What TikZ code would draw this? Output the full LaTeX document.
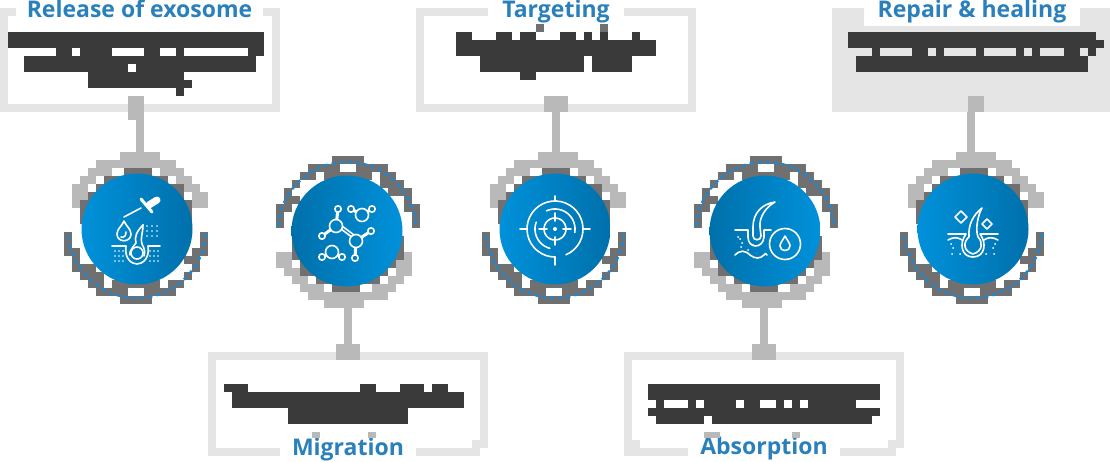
\documentclass[tikz,border=0pt]{standalone}
\usepackage{fontspec}
\newfontfamily\titlefont{Open Sans}
\definecolor{panelgray}{HTML}{E5E5E5}
\definecolor{stemgray}{HTML}{B9B9B9}
\definecolor{ringdark}{HTML}{707070}
\definecolor{inkdark}{HTML}{3A3A3A}
\definecolor{titleblue}{HTML}{2A80BA}
\definecolor{dashblue}{HTML}{1F86CF}
\definecolor{discA}{HTML}{0091DA}
\definecolor{discB}{HTML}{0070AB}
\definecolor{discM}{HTML}{0081C2}
\tikzset{
	panel/.style={rectangle, draw=panelgray, line width=8pt, minimum width=272pt, minimum height=96pt, inner sep=0pt},
	title/.style={fill=white, text=titleblue, inner sep=0pt, minimum height=26pt, text height=15pt, text depth=5pt, font=\titlefont\bfseries\fontsize{23}{27}\selectfont},
	tabpiece/.style={rectangle, fill=stemgray, inner sep=0pt},
	link/.style={draw=stemgray, line width=8pt},
	ringspot/.style={circle, minimum size=154pt, inner sep=0pt},
	discR/.style={circle, minimum size=111pt, inner sep=0pt, left color=discA, right color=discB},
	discL/.style={circle, minimum size=111pt, inner sep=0pt, left color=discB, right color=discA},
	icon/.style={draw=white, line width=1.6pt, line cap=round, line join=round},
	inkbar/.style={fill=inkdark},
}
% arc round the origin of the scope, angles run clockwise on the page
\newcommand{\iconarc}[3]{plot[domain=#2:#3, samples=36] ({#1*cos(\x)}, {#1*sin(\x)})}
% stepped gray and dark pieces of one ring
\newcommand{\ringbits}[3]{
	\begin{scope}[shift={(#1,#2)}, rotate=#3]
		\foreach \xa/\xb/\ya/\yb in {-13/15/-61/-53, -33/31/-53/-45, -41/47/-45/-37, -49/47/-37/-29, -57/55/-29/-5,
			-73/-65/3/19, 63/71/3/19, -73/-57/19/27, 55/71/19/27, -65/-57/27/35, 47/63/27/35, -65/-41/35/43, 55/63/35/43,
			-57/-33/43/51, 47/55/43/51, -49/-33/51/59, -25/23/51/59, 31/47/51/59, -41/-9/59/67, 7/39/59/67, -17/15/67/75}
			\fill[ringdark] (\xa,\ya) rectangle (\xb,\yb);
		\foreach \xa/\xb/\ya/\yb in {-17/23/-77/-69, -41/39/-69/-61, -49/-25/-61/-53, 23/47/-61/-53, -57/-41/-53/-45, 39/55/-53/-45,
			-65/-49/-45/-37, 47/63/-45/-37, -65/-49/-37/-29, 55/71/-37/-21, -65/-57/-29/-21}
			\fill[stemgray] (\xa,\ya) rectangle (\xb,\yb);
		\draw[dashblue, line width=2.6pt, dash pattern=on 4pt off 4pt] \iconarc{69}{4}{176};
	\end{scope}
}
\begin{document}
\begin{tikzpicture}[x=1pt,y=-1pt]
	\useasboundingbox (0,0) rectangle (1110,462);
	\fill[white] (0,0) rectangle (1110,462);

	% panels
	\node (box1) at (140,60) [panel] {};
	\node (box2) at (348,404) [panel] {};
	\node (box3) at (556,60) [panel] {};
	\node (box4) at (764,404) [panel] {};
	\node (box5) at (971,60) [panel, fill=panelgray, minimum width=270pt] {};
	% broken corners of the lower panels
	\foreach \xa/\ya in {480/448, 896/448}
		\fill[white] (\xa,\ya) rectangle ++(8,8);
	\foreach \xa/\ya in {472/440, 632/440, 888/440}
		\fill[panelgray] (\xa,\ya) rectangle ++(8,8);

	% rings and discs
	\ringbits{137}{229}{0}
	\ringbits{347}{231}{180}
	\ringbits{555}{229}{0}
	\ringbits{765}{231}{180}
	\ringbits{973}{229}{0}
	\node (ring1) at (137,229) [ringspot] {};
	\node (ring2) at (347,231) [ringspot] {};
	\node (ring3) at (555,229) [ringspot] {};
	\node (ring4) at (765,231) [ringspot] {};
	\node (ring5) at (973,229) [ringspot] {};
	\node (disc1) at (137,229) [discR] {};
	\node (disc2) at (347,231) [discL] {};
	\node (disc3) at (555,229) [discR] {};
	\node (disc4) at (765,231) [discL] {};
	\node (disc5) at (973,229) [discR] {};

	% connectors
	\draw[link] (box1.south) -- (box1.south |- ring1.north);
	\draw[link] (box2.north) -- (box2.north |- ring2.south);
	\draw[link] (box3.south) -- (box3.south |- ring3.north);
	\draw[link] (box4.north) -- (box4.north |- ring4.south);
	\draw[link] (box5.south) -- (box5.south |- ring5.north);
	\node (tab1) at (136,108) [tabpiece, minimum width=16pt, minimum height=24pt] {};
	\node (tab2) at (348,352) [tabpiece, minimum width=24pt, minimum height=16pt] {};
	\node (tab3) at (556,104) [tabpiece, minimum width=24pt, minimum height=16pt] {};
	\node (tab4) at (764,352) [tabpiece, minimum width=24pt, minimum height=16pt] {};
	\node (tab5) at (976,104) [tabpiece, minimum width=16pt, minimum height=16pt] {};

	% titles
	\node (title1) at (139.5,13) [title, minimum width=247pt] {Release of exosome};
	\node (title2) at (348,450) [title, minimum width=136pt] {Migration};
	\node (title3) at (556,13) [title, minimum width=136pt] {Targeting};
	\node (title4) at (764,449) [title, minimum width=152pt] {Absorption};
	\node (title5) at (972,13) [title, minimum width=216pt] {Repair \& healing};

	% unreadable body lines, as solid bars
	\foreach \xa/\xb/\ya/\yb in {8/264/32/48, 56/72/48/56, 80/112/48/56, 144/160/48/56, 176/184/48/56, 248/264/48/56,
		24/128/56/72, 128/136/56/64, 136/256/56/72, 88/184/72/80, 88/192/80/88, 176/184/88/96,
		224/248/384/392, 360/376/384/392, 400/424/384/392, 432/448/384/392, 232/464/392/408, 288/408/408/424,
		456/472/32/40, 496/512/32/40, 520/536/32/40, 560/576/32/40, 584/592/32/40, 600/608/32/40, 632/640/32/40,
		456/656/40/56, 480/584/56/72, 592/632/56/72, 520/536/72/80,
		648/880/384/400, 656/664/400/408, 688/696/400/408, 704/736/400/408, 744/760/400/408, 776/784/400/408,
		792/800/400/408, 808/856/400/408, 648/880/408/416, 656/704/416/424, 712/872/416/424,
		848/1096/32/40, 848/1104/40/48, 872/880/48/56, 912/928/48/56, 936/944/48/56, 976/984/48/56, 1016/1024/48/56,
		1032/1040/48/56, 1064/1080/48/56, 1088/1096/48/56, 856/1088/56/72}
		\fill[inkbar] (\xa,\ya) rectangle (\xb,\yb);
	% stray bits under and over the titles
	\foreach \xa/\xb/\ya/\yb in {536/544/24/32, 600/608/24/32}
		\fill[ringdark] (\xa,\ya) rectangle (\xb,\yb);
	\foreach \xa/\xb/\ya/\yb in {312/320/432/438, 368/376/432/438, 704/720/432/438, 792/800/432/438}
		\fill[stemgray] (\xa,\ya) rectangle (\xb,\yb);

	% icon 1: dropper over a hair
	\begin{scope}[shift={(disc1.center)}]
		\draw[icon] (-13,-12) -- (4,-21);
		\draw[icon, line width=3pt] (4,-30) -- (15,-17);
		\draw[icon, line width=7pt] (12,-24) -- (20,-29);
		\draw[icon] (-13,-8) .. controls (-15,-3) and (-20,0) .. (-20,5) .. controls (-20,14) and (-6,14) .. (-6,5) .. controls (-6,0) and (-11,-3) .. (-13,-8);
		\draw[icon] (-11,3) .. controls (-11,7) and (-13,9) .. (-16,8);
		\draw[icon] (6,-4) .. controls (0,2) and (-3,8) .. (-1,14) .. controls (-6,20) and (-8,24) .. (-7,26);
		\draw[icon] (6,-4) .. controls (6,4) and (3,10) .. (5,15) .. controls (8,20) and (8,24) .. (7,27);
		\draw[icon] (-25,17) -- (-11,17) .. controls (-13,30) and (-5,35) .. (0,35) .. controls (5,35) and (13,30) .. (11,17) -- (23,17);
		\draw[icon] (0,24) circle (6);
		\foreach \px in {-22,-18,-14,13,17,21}
			\foreach \py in {22,27,32}
				\fill[white] (\px,\py) circle (0.8);
		\foreach \px in {10,15,20}
			\foreach \py in {-3,2,7}
				\fill[white] (\px,\py) circle (0.8);
	\end{scope}

	% icon 2: molecules
	\begin{scope}[shift={(disc2.center)}]
		\draw[icon] (-10,-5) -- (10,10);
		\draw[icon] (-9,-8) -- (11,7);
		\foreach \ax/\ay/\bx/\by in {-11/-5/-9/-22, -11/-5/-25/5, 9/10/24/0, 9/10/8/27, 15/-16/4/-22, 15/-16/25/-22, -15/21/-25/26, -15/21/-5/26}
			\draw[icon, line width=3pt] (\ax,\ay) -- (\bx,\by);
		\foreach \ax/\ay in {-11/-5, 9/10, 15/-16, -15/21}
			\draw[icon, fill=discM] (\ax,\ay) circle (6.5);
		\foreach \ax/\ay in {-9/-22, -25/5, 24/0, 8/27, 4/-22, 25/-22, -25/26, -5/26}
			\draw[icon, fill=discM] (\ax,\ay) circle (3.2);
	\end{scope}

	% icon 3: target
	\begin{scope}[shift={(disc3.center)}]
		\draw[icon] \iconarc{28}{90}{427};
		\draw[icon] \iconarc{20}{105}{200};
		\draw[icon] \iconarc{20}{-115}{10};
		\draw[icon] \iconarc{11}{0}{360};
		\draw[icon] (-35,0) -- (-28,0);
		\draw[icon] (28,0) -- (35,0);
		\draw[icon] (0,-33) -- (0,-28);
		\draw[icon] (0,28) -- (0,36);
		\draw[icon] (-16,0) -- (-8,0);
		\draw[icon] (8,0) -- (16,0);
		\draw[icon] (0,-16) -- (0,-8);
		\draw[icon] (0,8) -- (0,16);
		\fill[white] (0,0) circle (2);
	\end{scope}

	% icon 4: hair and drop
	\begin{scope}[shift={(disc4.center)}]
		\draw[icon] (10,-29) .. controls (-3,-27) and (-12,-18) .. (-12,-4) -- (-12,5) .. controls (-12,10) and (-4,10) .. (-4,5) -- (-5,-4) .. controls (-6,-14) and (1,-24) .. (10,-29);
		\draw[icon] (-30,-1) -- (-17,-1) -- (-17,6) .. controls (-17,18) and (-2,18) .. (-1,6) -- (-1,-1) -- (6,-1);
		\draw[icon] (-30,24) .. controls (-25,19) and (-20,19) .. (-15,24) .. controls (-10,28) and (-5,28) .. (-1,24) .. controls (0,22) and (1,22) .. (2,24);
		\foreach \px/\py in {-27/6, -25/8, -23/12, -24/16, -17/19, -12/14}
			\fill[white] (\px,\py) circle (1);
		\draw[icon] (20,13) circle (15.5);
		\draw[icon] (20,5) .. controls (18,9) and (15,12) .. (15,15) .. controls (15,21) and (25,21) .. (25,15) .. controls (25,12) and (22,9) .. (20,5);
	\end{scope}

	% icon 5: hair and sparkles
	\begin{scope}[shift={(disc5.center)}]
		\draw[icon] (9,-21) .. controls (0,-14) and (-5,-4) .. (-4,8) .. controls (-10,13) and (-10,22) .. (0,25) .. controls (10,22) and (10,13) .. (5,8) .. controls (2,0) and (5,-14) .. (9,-21);
		\draw[icon] (-25,5) -- (-7,5) .. controls (-14,14) and (-12,28) .. (0,28) .. controls (12,28) and (14,14) .. (7,5) -- (25,5);
		\draw[icon] (-25,11) .. controls (-20,8) and (-15,8) .. (-11,11);
		\draw[icon] (25,11) .. controls (20,8) and (15,8) .. (11,11);
		\draw[icon] (-12,-18) -- (-6,-12) -- (-12,-6) -- (-18,-12) -- cycle;
		\draw[icon] (14,-10) -- (19,-5) -- (14,0) -- (9,-5) -- cycle;
		\foreach \px/\py in {-22/15, -21/25, -13/25, 22/15, 21/25, 13/25, -20/19, 20/19}
			\fill[white] (\px,\py) circle (1);
	\end{scope}
\end{tikzpicture}
\end{document}
